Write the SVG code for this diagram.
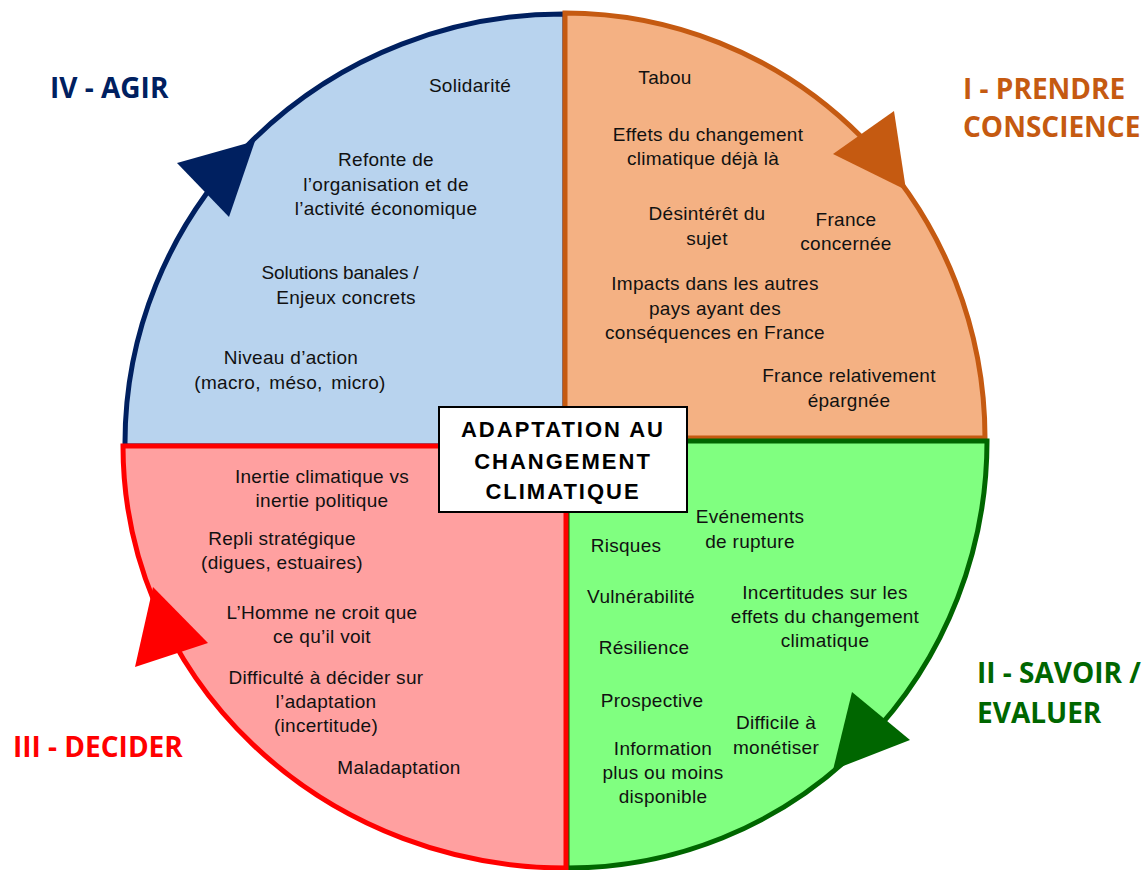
<svg xmlns="http://www.w3.org/2000/svg" width="1147" height="870" viewBox="0 0 1147 870">
<style>
.t{font-family:"Liberation Sans",Arial,sans-serif;font-size:19px;fill:#111;text-anchor:middle;letter-spacing:0.3px}
.lab{font-family:"Open Sans","Liberation Sans",sans-serif;font-size:28px;font-weight:bold}
.ctr{font-family:"Liberation Sans",Arial,sans-serif;font-size:22px;font-weight:bold;fill:#000;text-anchor:middle;letter-spacing:2px}
.q{stroke-width:5;stroke-linejoin:miter}
</style>
<rect width="1147" height="870" fill="#fff"/>
<g id="quadrant-agir">
<path class="q" d="M565,446 L125,446 L125,443 A438,429 0 0 1 563,14 L565,14 Z" fill="#B8D3EE" stroke="#002060"/>
</g>
<g id="quadrant-prendre-conscience">
<path class="q" d="M565,438 L565,13 A420,425 0 0 1 985,438 Z" fill="#F4B183" stroke="#C55A11"/>
</g>
<g id="quadrant-savoir-evaluer">
<path class="q" d="M567,441 L987,441 A419,427 0 0 1 568,868 L567,868 Z" fill="#80FF80" stroke="#006600"/>
</g>
<g id="quadrant-decider">
<path class="q" d="M566,446 L566,868 A443,422 0 0 1 123,446 Z" fill="#FFA0A0" stroke="#FF0000"/>
</g>
<g id="connectors">
<polygon points="833,154 894,111 906,190" fill="#C55A11"/>
<polygon points="852,692 910,740 833,770" fill="#006600"/>
<polygon points="153,587 208,643 135,667" fill="#FF0000"/>
<polygon points="177,163 255,141 229,217" fill="#002060"/>
</g>
<g id="label-agir"><text class="lab" x="50" y="98" fill="#002060">IV - AGIR</text></g>
<g id="label-prendre"><text class="lab" x="963" y="99" fill="#C55A11">I - PRENDRE</text><text class="lab" x="963" y="137" fill="#C55A11">CONSCIENCE</text></g>
<g id="label-savoir"><text class="lab" x="977" y="683" fill="#006600">II - SAVOIR /</text><text class="lab" x="977" y="723" fill="#006600">EVALUER</text></g>
<g id="label-decider"><text class="lab" x="13" y="757" fill="#FF0000">III - DECIDER</text></g>
<g id="text-agir">
<text class="t" x="470" y="92">Solidarité</text>
<text class="t" x="386" y="166">Refonte de</text>
<text class="t" x="386" y="191">l’organisation et de</text>
<text class="t" x="386" y="215">l’activité économique</text>
<text class="t" x="340" y="279" style="letter-spacing:-0.2px">Solutions banales /</text>
<text class="t" x="346" y="304">Enjeux concrets</text>
<text class="t" x="291" y="364">Niveau d’action</text>
<text class="t" x="290" y="389" style="word-spacing:3px">(macro, méso, micro)</text>
</g>
<g id="text-prendre">
<text class="t" x="665" y="84">Tabou</text>
<text class="t" x="708" y="141">Effets du changement</text>
<text class="t" x="703" y="165">climatique déjà là</text>
<text class="t" x="707" y="220">Désintérêt du</text>
<text class="t" x="707" y="245">sujet</text>
<text class="t" x="846" y="226">France</text>
<text class="t" x="846" y="250">concernée</text>
<text class="t" x="715" y="290">Impacts dans les autres</text>
<text class="t" x="715" y="315">pays ayant des</text>
<text class="t" x="715" y="339">conséquences en France</text>
<text class="t" x="849" y="382">France relativement</text>
<text class="t" x="849" y="407">épargnée</text>
</g>
<g id="text-savoir">
<text class="t" x="750" y="523">Evénements</text>
<text class="t" x="750" y="548">de rupture</text>
<text class="t" x="626" y="552">Risques</text>
<text class="t" x="641" y="603">Vulnérabilité</text>
<text class="t" x="825" y="599">Incertitudes sur les</text>
<text class="t" x="825" y="623">effets du changement</text>
<text class="t" x="825" y="647">climatique</text>
<text class="t" x="644" y="654">Résilience</text>
<text class="t" x="652" y="707">Prospective</text>
<text class="t" x="776" y="729">Difficile à</text>
<text class="t" x="776" y="754">monétiser</text>
<text class="t" x="663" y="755">Information</text>
<text class="t" x="663" y="779">plus ou moins</text>
<text class="t" x="663" y="803">disponible</text>
</g>
<g id="text-decider">
<text class="t" x="322" y="483">Inertie climatique vs</text>
<text class="t" x="322" y="507">inertie politique</text>
<text class="t" x="282" y="545">Repli stratégique</text>
<text class="t" x="282" y="569">(digues, estuaires)</text>
<text class="t" x="322" y="619">L’Homme ne croit que</text>
<text class="t" x="322" y="643">ce qu’il voit</text>
<text class="t" x="326" y="684">Difficulté à décider sur</text>
<text class="t" x="326" y="708">l’adaptation</text>
<text class="t" x="326" y="732">(incertitude)</text>
<text class="t" x="399" y="774">Maladaptation</text>
</g>
<g id="center">
<rect x="439" y="407" width="248" height="105" fill="#fff" stroke="#000" stroke-width="2"/>
<text class="ctr" x="563" y="437">ADAPTATION  AU</text>
<text class="ctr" x="563" y="469">CHANGEMENT</text>
<text class="ctr" x="563" y="499">CLIMATIQUE</text>
</g>
</svg>
